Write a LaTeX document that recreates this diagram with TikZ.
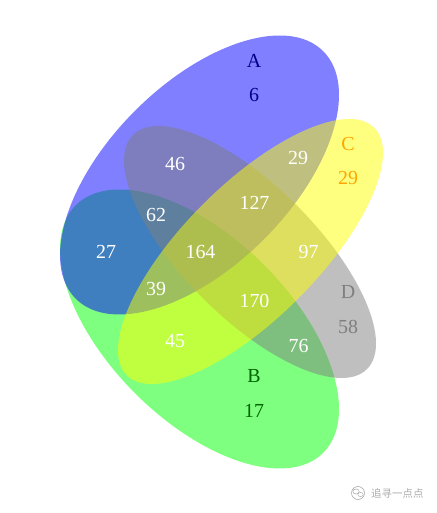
\documentclass[tikz,border=0pt]{standalone}
\usepackage{fontspec}
\setmainfont{Liberation Serif}
\newfontfamily\cjk{Noto Sans CJK SC}
\definecolor{setA}{RGB}{0,0,255}
\definecolor{setB}{RGB}{0,255,0}
\definecolor{setC}{RGB}{255,255,0}
\definecolor{setD}{RGB}{127,127,127}
\definecolor{labA}{RGB}{0,0,139}
\definecolor{labB}{RGB}{0,100,0}
\definecolor{labC}{RGB}{255,165,0}
\definecolor{labD}{RGB}{127,127,127}
\definecolor{wm}{RGB}{170,170,170}
\begin{document}
\begin{tikzpicture}[x=1bp,y=1bp,
  num/.style={font=\fontsize{20}{20}\selectfont, text=white, inner sep=0pt},
  lab/.style={font=\fontsize{20}{20}\selectfont, inner sep=0pt},
  setfill/.style={fill opacity=0.5}]
\useasboundingbox (0,0) rectangle (437,513);
% y_tikz = 513 - y_px
\fill[setB, setfill, rotate around={-45:(199.5,184)}] (199.5,184) ellipse [x radius=175bp, y radius=91bp];
\fill[setA, setfill, rotate around={45:(199.5,338)}] (199.5,338) ellipse [x radius=175bp, y radius=91bp];
\fill[setD, setfill, rotate around={-45:(250,261)}] (250,261) ellipse [x radius=165.5bp, y radius=66bp];
\fill[setC, setfill, rotate around={45:(250.5,261.5)}] (250.5,261.5) ellipse [x radius=175bp, y radius=67bp];
% set labels
\node[lab, text=labA] (la) at (254,452) {A};
\node[lab, text=labA] (na) at (254,418) {6};
\node[lab, text=labC] (lc) at (348,369) {C};
\node[lab, text=labC] (nc) at (348,335) {29};
\node[lab, text=labD] (ld) at (348,221) {D};
\node[lab, text=labD] (nd) at (348,186) {58};
\node[lab, text=labB] (lb) at (254,137) {B};
\node[lab, text=labB] (nb) at (254,102) {17};
% intersection counts
\node[num] (n46) at (175,349) {46};
\node[num] (n29) at (298,355) {29};
\node[num] (n62) at (156,298) {62};
\node[num] (n127) at (254.5,310) {127};
\node[num] (n27) at (106,261) {27};
\node[num] (n164) at (200.5,261) {164};
\node[num] (n97) at (308.5,261) {97};
\node[num] (n39) at (156,224) {39};
\node[num] (n170) at (254.5,212) {170};
\node[num] (n45) at (175,172) {45};
\node[num] (n76) at (298.5,167) {76};
% watermark
\draw[wm, line width=0.6bp] (358,20) circle [radius=6.5bp];
\draw[wm, line width=0.5bp] (356,21.5) ellipse [x radius=3.2bp, y radius=2.5bp];
\draw[wm, line width=0.5bp] (360.5,18.5) ellipse [x radius=2.7bp, y radius=2.1bp];
\node[font=\cjk\fontsize{10.5}{10.5}\selectfont, text=wm, anchor=west, inner sep=0pt] (wmt) at (371,20) {追寻一点点};
\end{tikzpicture}
\end{document}
